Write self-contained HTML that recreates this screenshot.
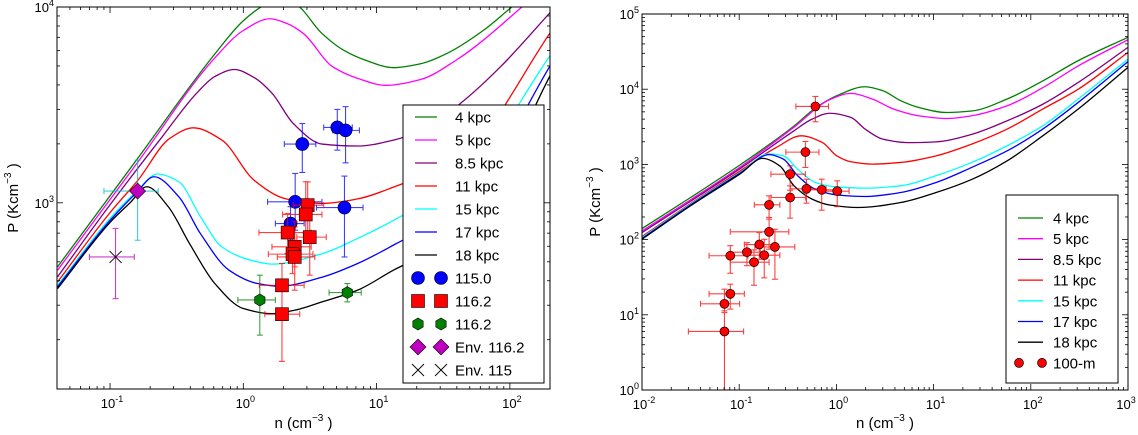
<!DOCTYPE html>
<html><head><meta charset="utf-8"><style>
html,body{margin:0;padding:0;background:#fff;}
svg{display:block;font-family:"Liberation Sans","DejaVu Sans",sans-serif;}
</style></head><body>
<svg id="fig" width="1138" height="435" viewBox="0 0 1138 435" xmlns="http://www.w3.org/2000/svg">
<g id="left"></g>
<g id="right"></g>
</svg>
<script>
// ---------- Data (log10 n, log10 P) ----------
const curveNames = ['4 kpc','5 kpc','8.5 kpc','11 kpc','15 kpc','17 kpc','18 kpc'];
const curveColors = ['#008000','#ff00ff','#800080','#ff0000','#00ffff','#0000ff','#000000'];

// Left panel curves
const L_4kpc = [[-1.394,2.673],[-0.8,3.22],[-0.214,3.76],[0.0,3.93],[0.161,4.01],[0.3,4.04],[0.402,4.01],[0.59,3.865],[0.751,3.78],[0.91,3.73],[1.126,3.69],[1.33,3.71],[1.528,3.763],[1.8,3.88],[2.011,3.998],[2.3,4.15]];
const L_5kpc = [[-1.394,2.656],[-0.8,3.2],[-0.214,3.74],[0.0,3.88],[0.2,3.94],[0.33,3.915],[0.45,3.865],[0.67,3.695],[0.86,3.635],[1.07,3.60],[1.33,3.63],[1.6,3.73],[2.09,4.0],[2.3,4.13]];
const L_85kpc = [[-1.394,2.622],[-1.0,2.99],[-0.617,3.33],[-0.35,3.56],[-0.214,3.645],[-0.067,3.681],[0.08,3.64],[0.215,3.56],[0.375,3.405],[0.59,3.30],[0.858,3.29],[1.126,3.32],[1.39,3.39],[1.66,3.525],[1.93,3.695],[2.32,3.985]];
const L_11kpc = [[-1.394,2.596],[-1.0,2.95],[-0.79,3.116],[-0.55,3.33],[-0.375,3.383],[-0.16,3.32],[0.08,3.116],[0.32,3.02],[0.59,2.997],[0.858,3.02],[1.126,3.08],[1.66,3.25],[2.32,3.886]];
const L_15kpc = [[-1.394,2.579],[-1.0,2.92],[-0.804,3.056],[-0.643,3.147],[-0.483,3.107],[-0.322,2.93],[-0.161,2.775],[0.054,2.707],[0.214,2.687],[0.59,2.74],[0.858,2.818],[1.126,2.91],[1.66,3.133],[2.32,3.77]];
const L_17kpc = [[-1.394,2.571],[-1.0,2.91],[-0.804,3.05],[-0.67,3.133],[-0.483,3.03],[-0.322,2.843],[-0.107,2.656],[0.107,2.588],[0.268,2.574],[0.59,2.62],[0.858,2.69],[1.126,2.784],[1.66,2.997],[2.32,3.72]];
const L_18kpc = [[-1.394,2.562],[-1.0,2.9],[-0.85,3.0],[-0.724,3.082],[-0.563,2.98],[-0.402,2.79],[-0.214,2.588],[0.0,2.46],[0.214,2.434],[0.375,2.45],[0.59,2.494],[0.858,2.554],[1.126,2.656],[1.66,2.843],[2.32,3.673]];
const leftCurves = [L_4kpc,L_5kpc,L_85kpc,L_11kpc,L_15kpc,L_17kpc,L_18kpc];

// Right panel curves
const R_4kpc = [[-2,2.147],[-1.5,2.56],[-0.984,3.0],[-0.436,3.51],[-0.216,3.75],[0.003,3.913],[0.295,4.033],[0.478,3.98],[0.661,3.847],[0.844,3.758],[1.136,3.69],[1.392,3.71],[1.757,3.87],[2.123,4.11],[2.488,4.38],[3.0,4.69]];
const R_5kpc = [[-2,2.116],[-1.5,2.53],[-0.984,2.97],[-0.436,3.495],[-0.07,3.86],[0.149,3.944],[0.368,3.87],[0.588,3.736],[0.844,3.647],[1.136,3.61],[1.392,3.647],[1.757,3.78],[2.123,4.02],[2.488,4.31],[3.0,4.658]];
const R_85kpc = [[-2,2.094],[-1.5,2.51],[-0.984,2.95],[-0.436,3.447],[-0.253,3.60],[-0.07,3.68],[0.149,3.625],[0.295,3.47],[0.478,3.336],[0.734,3.29],[1.026,3.30],[1.392,3.40],[1.757,3.58],[2.123,3.80],[2.488,4.09],[3.0,4.556]];
const R_11kpc = [[-2,2.04],[-1.5,2.48],[-0.984,2.92],[-0.618,3.225],[-0.363,3.38],[-0.143,3.29],[0.003,3.114],[0.149,3.035],[0.368,3.004],[0.661,3.026],[1.026,3.114],[1.392,3.27],[1.757,3.47],[2.123,3.736],[2.488,4.0],[3.0,4.49]];
const R_15kpc = [[-2,2.027],[-1.5,2.47],[-0.984,2.9],[-0.692,3.14],[-0.545,3.114],[-0.399,2.937],[-0.216,2.76],[0.003,2.70],[0.295,2.684],[0.661,2.715],[1.026,2.85],[1.392,3.026],[1.757,3.248],[2.123,3.514],[2.488,3.87],[3.0,4.40]];
const R_17kpc = [[-2,2.014],[-1.5,2.46],[-0.984,2.89],[-0.692,3.13],[-0.545,3.07],[-0.399,2.85],[-0.216,2.67],[0.003,2.595],[0.295,2.573],[0.661,2.626],[1.026,2.76],[1.392,2.96],[1.757,3.18],[2.123,3.47],[2.488,3.824],[3.0,4.366]];
const R_18kpc = [[-2,2.005],[-1.5,2.45],[-0.984,2.88],[-0.76,3.08],[-0.582,2.98],[-0.436,2.715],[-0.253,2.54],[-0.07,2.46],[0.222,2.427],[0.661,2.493],[1.026,2.626],[1.392,2.80],[1.757,3.048],[2.123,3.38],[2.488,3.736],[3.0,4.29]];
const rightCurves = [R_4kpc,R_5kpc,R_85kpc,R_11kpc,R_15kpc,R_17kpc,R_18kpc];

// Left panel points: [n, P, nlo, nhi, Plo, Phi]
const pts115 = [[5.07,2427,4.01,6.57,1858,3000],[5.85,2344,4.68,7.43,1600,3098],[2.77,1995,2.03,3.5,1429,2541],[2.45,1012,1.52,3.89,725,1412],[5.74,946,3.54,7.91,529,1369],[2.26,784,1.74,2.86,644,955]];
const pts1162 = [[3.04,973,2.37,4.01,697,1280],[2.94,872,1.97,3.89,697,1280],[2.15,705,1.31,3.23,551,882],[3.15,668,2.52,4.19,427,918],[2.43,596,1.64,3.23,471,800],[2.34,547,1.54,3.33,435,753],[2.43,529,1.80,3.44,358,753],[1.95,379,1.32,2.86,358,490],[1.95,270,1.45,2.65,155,358]];
const ptsHex = [[1.33,319,0.91,1.74,211,427],[6.03,348,4.4,7.67,312,387]];
const ptsEnv1162 = [[0.161,1148,0.090,0.230,644,1652]];
const ptsEnv115 = [[0.110,529,0.070,0.152,324,740]];

// Right panel points
const pts100m = [[0.608,5900,0.383,0.83,3690,8010],[0.48,1456,0.302,0.661,910,2020],[0.334,741,0.212,0.48,454,957],[0.334,363,0.212,0.48,193,519],[0.492,473,0.337,0.782,305,636],[0.706,459,0.492,1.0,246,636],[1.02,441,0.706,1.35,275,605],[0.203,290,0.143,0.262,187,382],[0.203,127,0.081,0.324,74.5,197],[0.233,80,0.145,0.373,29.7,137],[0.161,86,0.113,0.231,54.8,124],[0.12,68,0.081,0.165,45,91],[0.181,62,0.121,0.262,31,101],[0.142,50,0.081,0.203,24.7,73],[0.081,61,0.049,0.123,35.7,83],[0.081,19,0.049,0.113,11.9,25.5],[0.0705,14,0.040,0.101,10.7,21.9],[0.0705,6,0.030,0.111,1,11.3]];

// tick labels
const leftXTicks = [-1,0,1,2];
const leftYTicks = [3,4];
const rightXTicks = [-2,-1,0,1,2,3];
const rightYTicks = [0,1,2,3,4,5];

// ---------- Drawing ----------
const NS='http://www.w3.org/2000/svg';
function mk(tag, attrs, parent){const e=document.createElementNS(NS,tag);for(const k in attrs)e.setAttribute(k,attrs[k]);if(parent)parent.appendChild(e);return e;}

function makeAxes(box, xl, yl){
  const sx = v=>box.x0+(Math.log10(v)-xl[0])/(xl[1]-xl[0])*(box.x1-box.x0);
  const sy = v=>box.y1-(Math.log10(v)-yl[0])/(yl[1]-yl[0])*(box.y1-box.y0);
  const lx = l=>box.x0+(l-xl[0])/(xl[1]-xl[0])*(box.x1-box.x0);
  const ly = l=>box.y1-(l-yl[0])/(yl[1]-yl[0])*(box.y1-box.y0);
  return {sx,sy,lx,ly};
}
function smoothPath(P){
  const n=P.length, d=[], m=[];
  for(let i=0;i<n-1;i++) d.push((P[i+1][1]-P[i][1])/(P[i+1][0]-P[i][0]));
  m[0]=d[0]; m[n-1]=d[n-2];
  for(let i=1;i<n-1;i++){
    if(d[i-1]*d[i]<=0) m[i]=0;
    else { const h0=P[i][0]-P[i-1][0], h1=P[i+1][0]-P[i][0];
      const w1=2*h1+h0, w2=h1+2*h0; m[i]=(w1+w2)/(w1/d[i-1]+w2/d[i]); }
  }
  let s='M'+P[0][0].toFixed(2)+','+P[0][1].toFixed(2);
  for(let i=0;i<n-1;i++){
    const h=(P[i+1][0]-P[i][0])/3;
    s+=' C'+(P[i][0]+h).toFixed(2)+','+(P[i][1]+m[i]*h).toFixed(2)+' '+(P[i+1][0]-h).toFixed(2)+','+(P[i+1][1]-m[i+1]*h).toFixed(2)+' '+P[i+1][0].toFixed(2)+','+P[i+1][1].toFixed(2);
  }
  return s;
}

function drawPanel(gid, box, xl, yl, curves, xt, yt, side){
  const g=document.getElementById(gid);
  const A=makeAxes(box,xl,yl);
  const clipId='clip'+gid;
  const defs=mk('defs',{},g);
  const cp=mk('clipPath',{id:clipId},defs);
  mk('rect',{x:box.x0,y:box.y0,width:box.x1-box.x0,height:box.y1-box.y0},cp);
  const plot=mk('g',{'clip-path':'url(#'+clipId+')'},g);
  
  
  curves.forEach((c,i)=>{
    const P=c.map(p=>[A.lx(p[0]),A.ly(p[1])]);
    const path=mk('path',{d:smoothPath(P),fill:'none',stroke:curveColors[i],'stroke-width':1.3,'stroke-linejoin':'round'},plot);
    
    
  });
  const tk=mk('g',{stroke:'#000','stroke-width':0.8},g);
  
  
  for(let e=Math.floor(xl[0]);e<=Math.ceil(xl[1]);e++){
    for(let m=1;m<10;m++){
      const l=e+Math.log10(m); if(l<xl[0]-1e-6||l>xl[1]+1e-6)continue;
      const x=A.lx(l), len=m===1?6:3;
      mk('line',{x1:x,x2:x,y1:box.y1,y2:box.y1-len},tk);
      mk('line',{x1:x,x2:x,y1:box.y0,y2:box.y0+len},tk);
    }
  }
  for(let e=Math.floor(yl[0]);e<=Math.ceil(yl[1]);e++){
    for(let m=1;m<10;m++){
      const l=e+Math.log10(m); if(l<yl[0]-1e-6||l>yl[1]+1e-6)continue;
      const y=A.ly(l), len=m===1?6:3;
      mk('line',{x1:box.x0,x2:box.x0+len,y1:y,y2:y},tk);
      mk('line',{x1:box.x1,x2:box.x1-len,y1:y,y2:y},tk);
    }
  }
  const fr=mk('rect',{x:box.x0,y:box.y0,width:box.x1-box.x0,height:box.y1-box.y0,fill:'none',stroke:'#000','stroke-width':1},g);
  
  
  xt.forEach(e=>{
    const t=mk('text',{x:Math.min(A.lx(e)+2,1126),y:box.y1+19,'font-size':13,'text-anchor':'middle'},g);
    
    
    t.textContent='10';
    const s=mk('tspan',{'font-size':9,dy:-6},t); s.textContent=String(e);
  });
  yt.forEach(e=>{
    const t=mk('text',{x:box.x0-3,y:A.ly(e)+5,'font-size':13,'text-anchor':'end'},g);
    
    
    t.textContent='10';
    const s=mk('tspan',{'font-size':9,dy:-6},t); s.textContent=String(e);
  });
  const xtit=mk('text',{x:(box.x0+box.x1)/2,y:428,'font-size':15,'text-anchor':'middle'},g);
  
  
  xtit.innerHTML='n (cm<tspan font-size="10" dy="-7">−3</tspan><tspan dy="7"> )</tspan>';
  const cy=(box.y0+box.y1)/2, cx=side;
  const ytit=mk('text',{x:cx,y:cy,'font-size':15,'text-anchor':'middle',transform:'rotate(-90 '+cx+' '+cy+')'},g);
  
  
  ytit.innerHTML='P (Kcm<tspan font-size="10" dy="-7">−3</tspan><tspan dy="7"> )</tspan>';
  return {A,plot,g};
}

function errbars(parent,A,pts,color){
  const eg=mk('g',{stroke:color,'stroke-width':1.1,opacity:0.75},parent);
  
  
  pts.forEach(p=>{
    const x=A.sx(p[0]),y=A.sy(p[1]);
    const xa=A.sx(p[2]),xb=A.sx(p[3]),ya=A.sy(p[4]),yb=A.sy(p[5]);
    mk('line',{x1:xa,x2:xb,y1:y,y2:y},eg);
    mk('line',{x1:x,x2:x,y1:ya,y2:yb},eg);
    mk('line',{x1:xa,x2:xa,y1:y-3,y2:y+3},eg);
    mk('line',{x1:xb,x2:xb,y1:y-3,y2:y+3},eg);
    mk('line',{x1:x-3,x2:x+3,y1:ya,y2:ya},eg);
    mk('line',{x1:x-3,x2:x+3,y1:yb,y2:yb},eg);
  });
}
function marker(parent,type,x,y,name){
  let e;
  if(type==='circle') e=mk('circle',{cx:x,cy:y,r:6.5,fill:'#0000ff',stroke:'#000','stroke-width':0.6},parent);
  else if(type==='smallcircle') e=mk('circle',{cx:x,cy:y,r:4.5,fill:'#ff0000',stroke:'#000','stroke-width':0.7},parent);
  else if(type==='square') e=mk('rect',{x:x-6.5,y:y-6.5,width:13,height:13,fill:'#ff0000',stroke:'#000','stroke-width':0.6},parent);
  else if(type==='hex'){let s='';for(let k=0;k<6;k++){const a=Math.PI/6+k*Math.PI/3;s+=(x+6*Math.cos(a)).toFixed(2)+','+(y+6*Math.sin(a)).toFixed(2)+' ';}
    e=mk('polygon',{points:s,fill:'#008000',stroke:'#000','stroke-width':0.6},parent);}
  else if(type==='diamond') e=mk('polygon',{points:`${x},${y-8} ${x+8},${y} ${x},${y+8} ${x-8},${y}`,fill:'#bf00bf',stroke:'#000','stroke-width':0.6},parent);
  else if(type==='x'){e=mk('g',{stroke:'#000','stroke-width':0.9},parent);mk('line',{x1:x-6,y1:y-6,x2:x+6,y2:y+6},e);mk('line',{x1:x-6,y1:y+6,x2:x+6,y2:y-6},e);}
  
  
  return e;
}
function points(parent,A,pts,type,color,name){
  errbars(parent,A,pts,color);
  pts.forEach(p=>marker(parent,type,A.sx(p[0]),A.sy(p[1]),name));
}

const LB={x0:57,x1:550,y0:7,y1:389};
const Lp=drawPanel('left',LB,[Math.log10(0.04),Math.log10(200)],[Math.log10(112),4],leftCurves,leftXTicks,leftYTicks,18);
points(Lp.plot,Lp.A,ptsEnv1162,'diamond','#00bfbf','env-116-2-point');
points(Lp.plot,Lp.A,ptsEnv115,'x','#bf00bf','env-115-point');
points(Lp.plot,Lp.A,ptsHex,'hex','#008000','hex-116-2-point');
points(Lp.plot,Lp.A,pts115,'circle','#0000ff','point-115-0');
points(Lp.plot,Lp.A,pts1162,'square','#ff0000','square-116-2-point');

const RB={x0:642,x1:1128,y0:14,y1:390};
const Rp=drawPanel('right',RB,[-2,3],[0,5],rightCurves,rightXTicks,rightYTicks,600);
points(Rp.plot,Rp.A,pts100m,'smallcircle','#ff0000','point-100-m');

function legend(g,x0,y0,w,h,firstY,step,lineX0,lineX1,textX,extra){
  const lg=mk('g',{},g);
  
  
  mk('rect',{x:x0,y:y0,width:w,height:h,fill:'#fff',stroke:'#000','stroke-width':1},lg);
  curveNames.forEach((n,i)=>{
    const y=firstY+i*step;
    const e=mk('g',{},lg);
    
    
    mk('line',{x1:lineX0,x2:lineX1,y1:y,y2:y,stroke:curveColors[i],'stroke-width':1.3},e);
    const t=mk('text',{x:textX,y:y+5.5,'font-size':15},e); t.textContent=n;
  });
  extra.forEach((ex,j)=>{
    const y=firstY+(curveNames.length+j)*step;
    const e=mk('g',{},lg);
    
    
    marker(e,ex[0],ex[2],y,'legend-marker');
    marker(e,ex[0],ex[3],y,'legend-marker');
    const t=mk('text',{x:textX,y:y+5.5,'font-size':15},e); t.textContent=ex[1];
  });
}
legend(Lp.g,403,105,141,278,117,23,415,437,455,[['circle','115.0',418,441],['square','116.2',418,441],['hex','116.2',418,441],['diamond','Env. 116.2',418,441],['x','Env. 115',418,441]]);
legend(Rp.g,1006,195,112,188,218,20.7,1018,1043,1053,[['smallcircle','100-m',1019,1042]]);
</script>
</body></html>
